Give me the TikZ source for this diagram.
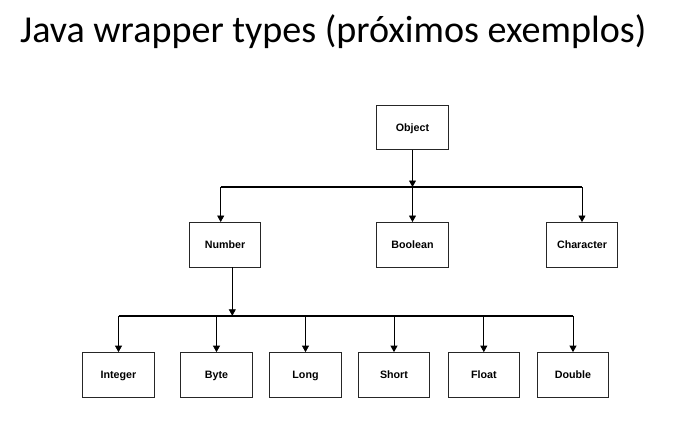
\documentclass[tikz,border=0pt]{standalone}
\usepackage{fontspec}
\setmainfont{Carlito}
\newfontfamily\labelfont{Liberation Sans}
\usetikzlibrary{calc,positioning,arrows.meta}

\begin{document}
\begin{tikzpicture}[x=1pt,y=-1pt,
  cls/.style={draw=black!85, line width=0.8pt, minimum width=71.5pt, minimum height=44.5pt, inner sep=0pt,
    text height=7.6pt, text depth=0pt, font=\labelfont\bfseries\fontsize{10.7}{12}\selectfont},
  arr/.style={line width=0.8pt, -{Triangle[length=6.5pt,width=7pt]}},
  bus/.style={line width=1.7pt}]
\useasboundingbox (0,0) rectangle (678,436);
\node [anchor=base west, inner sep=0pt, font=\fontsize{38.1}{40}\selectfont] (title) at (20,43) {Java wrapper types (próximos exemplos)};
\node [cls] (obj) at (412.5,127.5) {Object};
\node [cls] (num) at (225,244.7) {Number};
\node [cls] (bool) at (412.5,244.7) {Boolean};
\node [cls] (chr) at (582,244.7) {Character};
\foreach \n/\x/\t in {int/118.5/Integer, byt/216.5/Byte, lng/305.5/Long, sht/394/Short, flt/483.8/Float, dbl/573/Double}
  \node [cls] (\n) at (\x,374.8) {\t};
% first level
\coordinate (b1) at (220.7,187);
\draw [bus] (b1) -- (b1 -| chr);
\draw [arr] (obj.south) -- (obj.south |- b1);
\draw [arr] (b1) -- (b1 |- num.north);
\draw [arr] (bool.north |- b1) -- (bool.north);
\draw [arr] (chr.north |- b1) -- (chr.north);
% second level
\coordinate (b2) at (118.5,315.8);
\draw [bus] (b2) -- (b2 -| dbl);
\draw [arr] ([xshift=7.3pt]num.south) -- ([xshift=7.3pt]num.south |- b2);
\foreach \n in {int,byt,lng,sht,flt,dbl}
  \draw [arr] (\n.north |- b2) -- (\n.north);
\end{tikzpicture}
\end{document}
